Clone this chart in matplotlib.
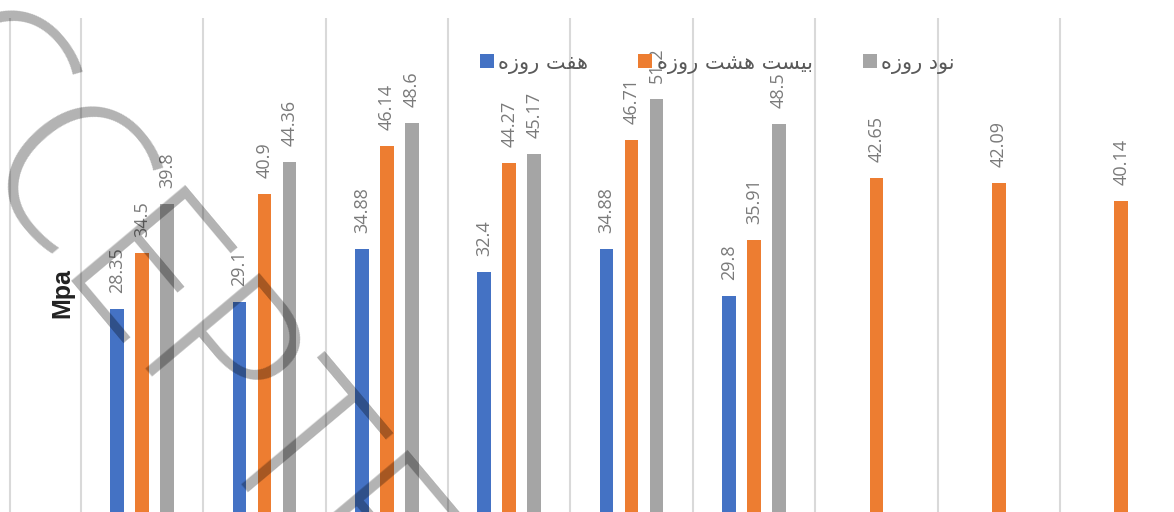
import numpy as np
import matplotlib
matplotlib.use("Agg")
import matplotlib.pyplot as plt

# data (Mpa)
groups = np.arange(9)
seven_day = [28.35, 29.1, 34.88, 32.4, 34.88, 29.8, np.nan, np.nan, np.nan]
twenty_eight_day = [34.5, 40.9, 46.14, 44.27, 46.71, 35.91, 42.65, 42.09, 40.14]
ninety_day = [39.8, 44.36, 48.6, 45.17, 51.2, 48.5, np.nan, np.nan, np.nan]
series_names = ["هفت روزه", "بیست هشت روزه", "نود روزه"]
y_label = "Mpa"
watermark = "ACCEPTED"

# matplotlib does no arabic shaping, so pick presentation forms by hand
# (isolated, final, initial, medial); None = letter does not join forward
FORMS = {
    "ه": ("\uFEE9", "\uFEEA", "\uFEEB", "\uFEEC"),
    "ف": ("\uFED1", "\uFED2", "\uFED3", "\uFED4"),
    "ت": ("\uFE95", "\uFE96", "\uFE97", "\uFE98"),
    "ب": ("\uFE8F", "\uFE90", "\uFE91", "\uFE92"),
    "ی": ("\uFBFC", "\uFBFD", "\uFBFE", "\uFBFF"),
    "س": ("\uFEB1", "\uFEB2", "\uFEB3", "\uFEB4"),
    "ش": ("\uFEB5", "\uFEB6", "\uFEB7", "\uFEB8"),
    "ن": ("\uFEE5", "\uFEE6", "\uFEE7", "\uFEE8"),
    "ر": ("\uFEAD", "\uFEAE", None, None),
    "و": ("\uFEED", "\uFEEE", None, None),
    "ز": ("\uFEAF", "\uFEB0", None, None),
    "د": ("\uFEA9", "\uFEAA", None, None),
}


def joins_forward(ch):
    return ch in FORMS and FORMS[ch][2] is not None


def shape(text):
    out = []
    for i, ch in enumerate(text):
        if ch not in FORMS:
            out.append(ch)
            continue
        prev = text[i - 1] if i > 0 else ""
        nxt = text[i + 1] if i + 1 < len(text) else ""
        back = joins_forward(prev)
        fwd = joins_forward(ch) and nxt in FORMS
        if back and fwd:
            out.append(FORMS[ch][3])
        elif back:
            out.append(FORMS[ch][1])
        elif fwd:
            out.append(FORMS[ch][2])
        else:
            out.append(FORMS[ch][0])
    return "".join(out)[::-1]


W, H = 1174, 512
fig = plt.figure(figsize=(W / 100, H / 100), dpi=100)
top_px = 18
ax = fig.add_axes([0, 0, 1, 1 - top_px / H])

# one category = 122.4 px, first group centred at x=142 px
px_per_cat = 122.4
ax.set_xlim(-142 / px_per_cat, (W - 142) / px_per_cat)
ax.set_ylim(6.3, 60)

# vertical grid lines
for gx in [-1.08] + list(np.arange(-0.5, 8.0, 1.0)):
    ax.axvline(gx, color="#d9d9d9", lw=1.5, zorder=0)

width = 0.11
off = 0.204
colors = ["#4472C4", "#ED7D31", "#A5A5A5"]
all_series = [seven_day, twenty_eight_day, ninety_day]
offsets = [-off, 0.0, off]

for vals, dx, c, name in zip(all_series, offsets, colors, series_names):
    vals = np.array(vals, dtype=float)
    ok = ~np.isnan(vals)
    xs = groups[ok] + dx
    ax.bar(xs, vals[ok], width=width, color=c, label=shape(name), zorder=2)
    for x, v in zip(xs, vals[ok]):
        ax.annotate(f"{v:g}", (x, v), xytext=(0, 11.5), textcoords="offset points",
                    rotation=90, ha="center", va="bottom", fontsize=13,
                    family="Open Sans", color="#7a7a7a", zorder=3)

for s in ax.spines.values():
    s.set_visible(False)
ax.set_xticks([])
ax.set_yticks([])

fig.text(62 / W, 1 - 293 / H, y_label, rotation=90, ha="center", va="center",
         fontsize=18, fontweight="bold", family="Liberation Sans", color="#222222")

leg = fig.legend(loc="center left", bbox_to_anchor=(480 / W, 1 - 63 / H), ncol=3,
                 frameon=False, borderpad=0, borderaxespad=0, handlelength=0.68,
                 handleheight=0.68, handletextpad=0.2, columnspacing=2.4,
                 labelcolor="#595959", prop={"family": "DejaVu Sans", "size": 15})

# diagonal watermark
fig.text(-184 / W, 1 + 23 / H, watermark, rotation=-50, rotation_mode="anchor",
         ha="left", va="baseline", fontsize=150, family="Open Sans",
         fontweight="light", color="black", alpha=0.3, zorder=10)

fig.savefig("out.png", dpi=100)
